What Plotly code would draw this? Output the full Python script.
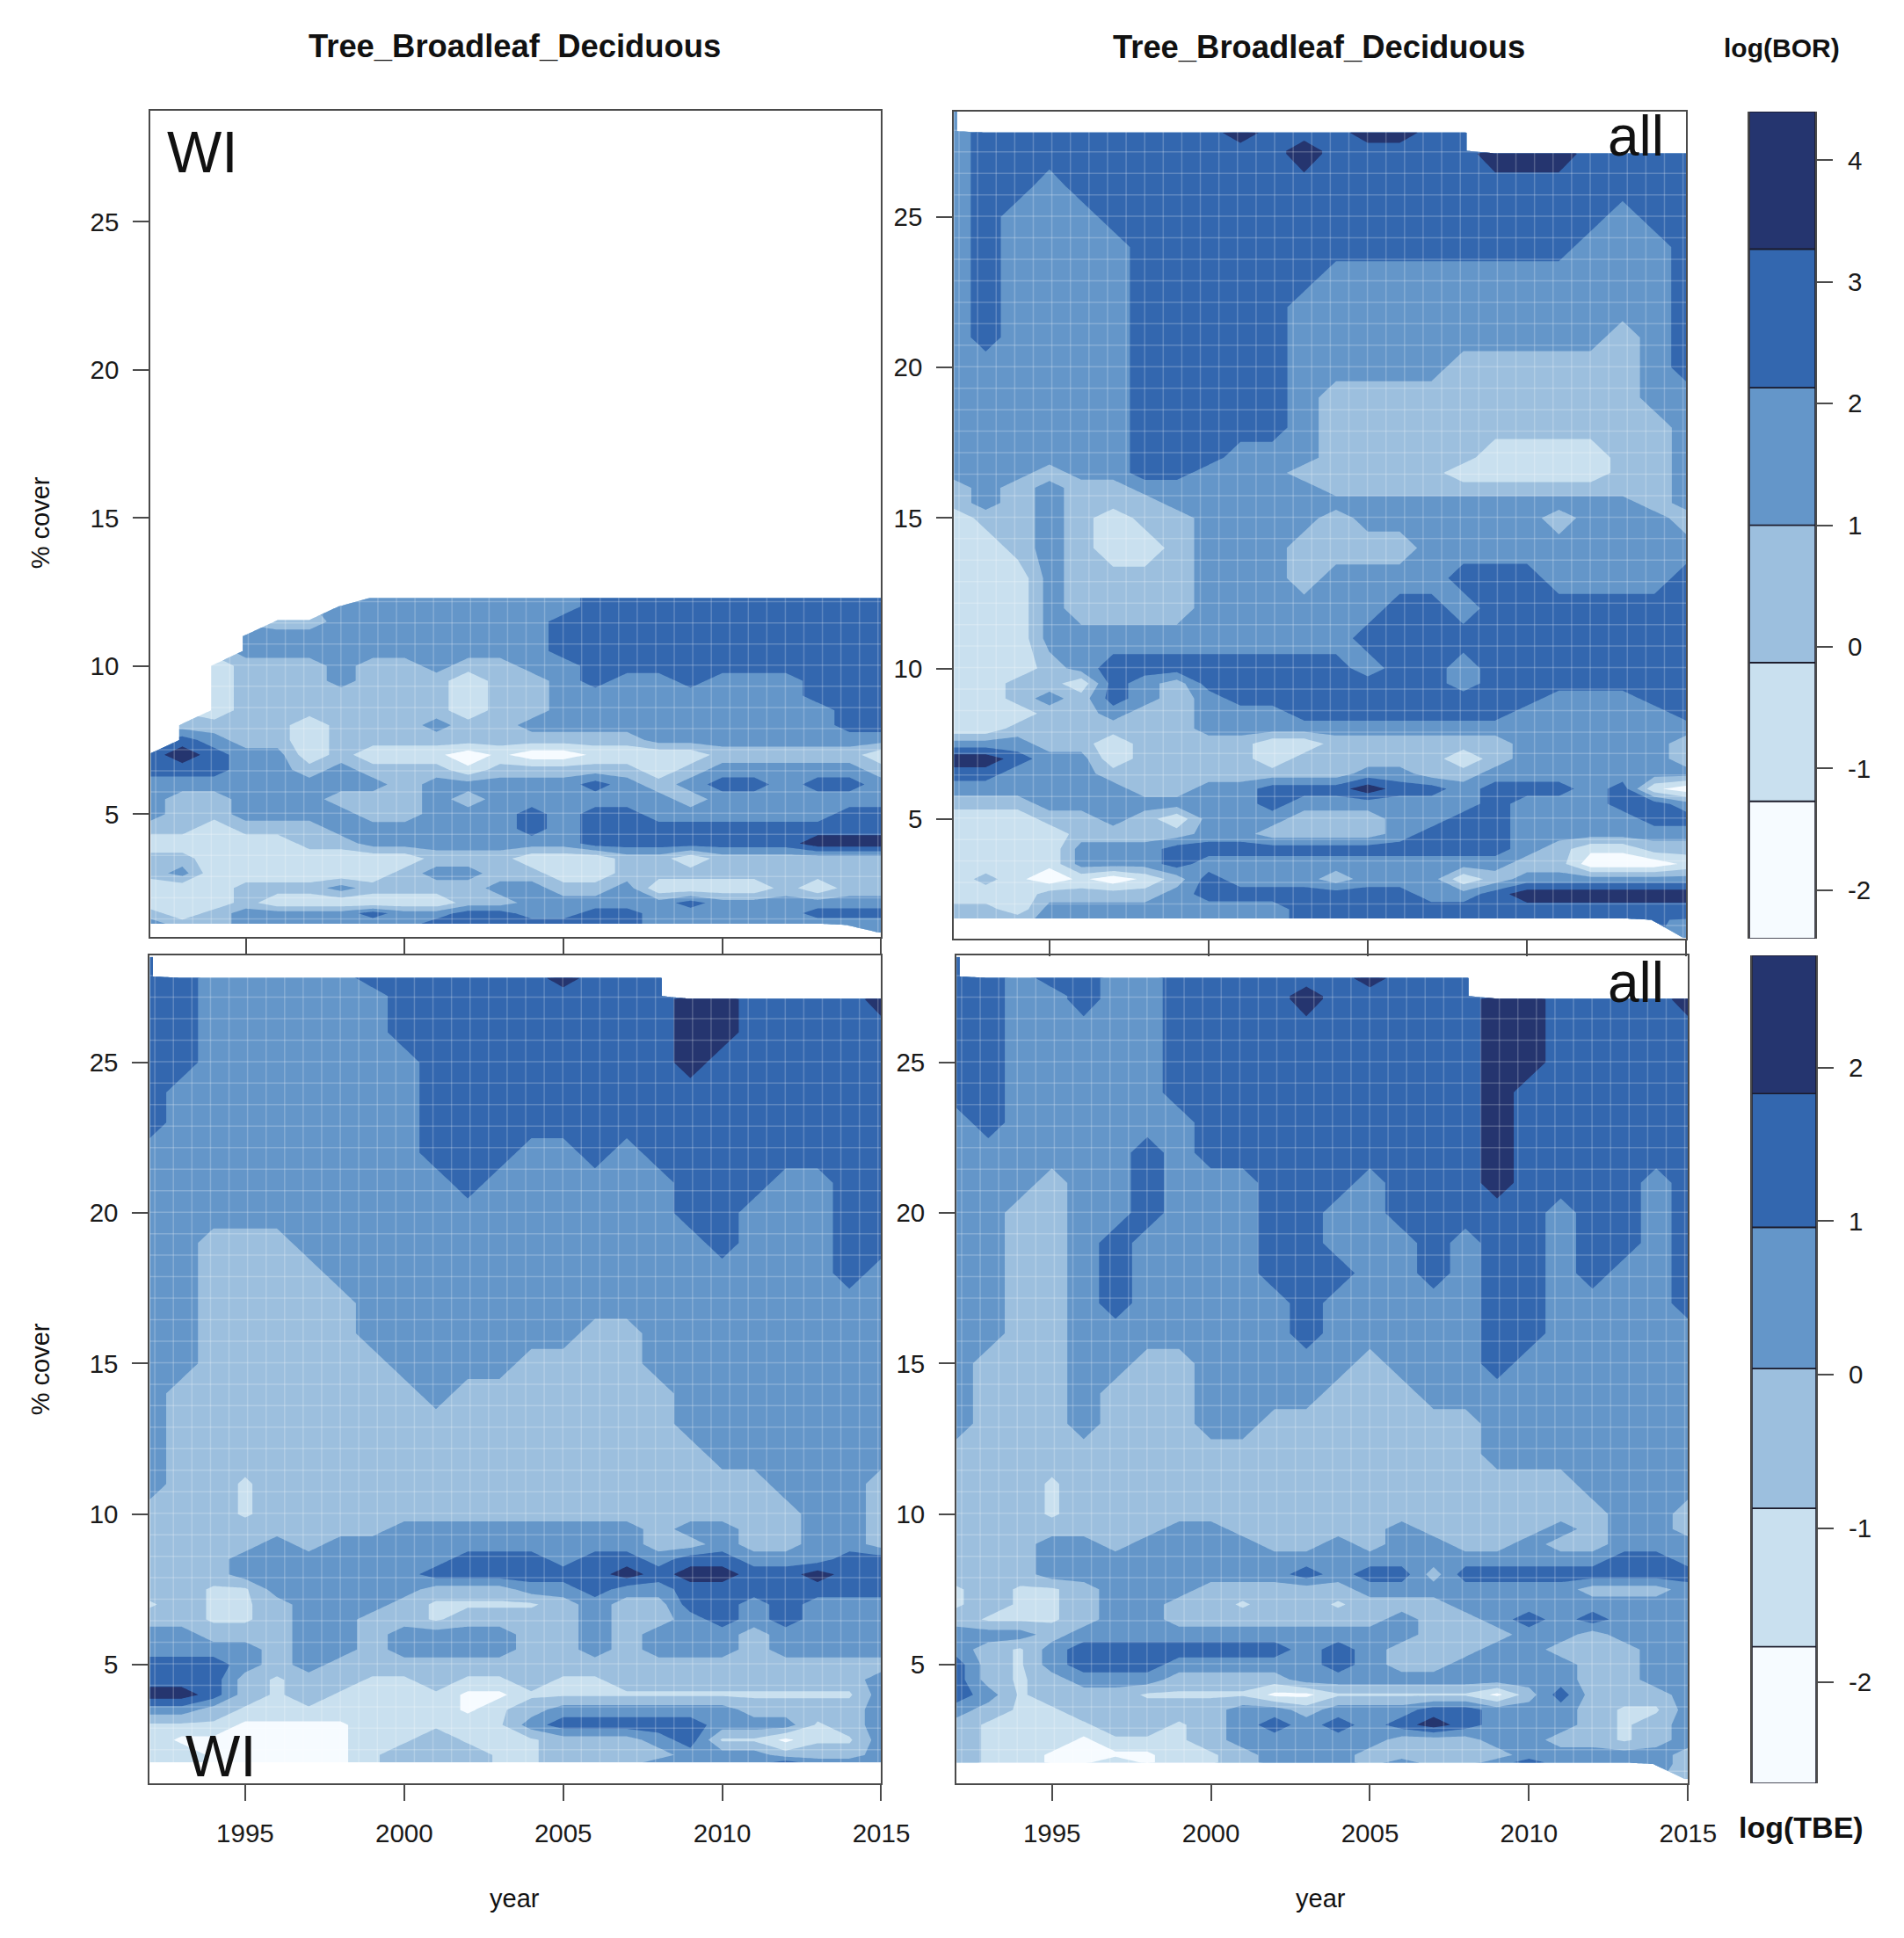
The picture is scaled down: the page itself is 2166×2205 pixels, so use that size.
import numpy as np
import plotly.graph_objects as go

W, H = 2166, 2205
N = None

years = list(range(1992, 2016))

bor_levels = [-2.4, -1.27, -0.13, 1.0, 2.13, 3.27, 4.4]
tbe_levels = [-2.66, -1.77, -0.87, 0.04, 0.96, 1.83, 2.73]
bor_ticks = [-2, -1, 0, 1, 2, 3, 4]
bor_tick_labels = ["-2", "-1", "0", "1", "2", "3", "4"]
tbe_ticks = [-2, -1, 0, 1, 2]
tbe_tick_labels = ["-2", "-1", "0", "1", "2"]
band_colors = ["#F6FBFF", "#C9E0EF", "#9CBFDE", "#6496C9", "#3367AF", "#25356F"]

# top left, log(BOR), WI
wi_bor_y = [1.0, 1.25, 1.3, 1.65, 2, 2.5, 3, 3.5, 4, 4.5, 5, 5.5, 6, 6.5, 7, 7.5, 8, 8.5, 9, 9.5, 10, 10.5, 11, 11.5, 12, 12.3]
wi_bor_z = [
    [N,N,N,N,N,N,N,N,N,N,N,N,N,N,N,N,N,N,N,N,N,N,N,1.5],
    [N,N,N,N,N,N,N,N,N,N,N,N,N,N,N,N,N,N,N,N,N,N,1.5,1.5],
    [1.5,.4,.4,1.5,1.5,1.5,1.5,1.5,1.5,2.7,2.7,2.7,2.7,2.7,2.7,2.7,1.5,1.5,1.5,1.5,1.5,1.5,1.5,1.5],
    [.4,-1,.4,1.5,1.5,1.5,1.5,2.7,1.5,1.5,2.7,2.7,1.5,1.5,2.7,2.7,1.5,1.5,1.5,1.5,1.5,2.7,2.7,2.7],
    [-1,-1,-1,.4,-1,-1,-1,-1,-1,-1,.4,.4,1.5,1.5,1.5,1.5,1.5,2.7,1.5,1.5,1.5,1.5,1.5,1.5],
    [-1,-1,-1,.4,.4,.4,1.5,.4,.4,.4,.4,1.5,1.5,.4,.4,1.5,-1,-1,-1,-1,.4,-1,.4,.4],
    [.4,1.5,-1,-1,-1,-1,-1,-1,.4,1.5,1.5,.4,.4,-1,-1,.4,.4,.4,.4,.4,.4,.4,.4,.4],
    [.4,.4,-1,-1,-1,-1,-1,-1,-1,.4,.4,.4,-1,-1,-1,.4,.4,-1,.4,.4,.4,.4,.4,.4],
    [-1,-1,-1,-1,-1,.4,.4,1.5,1.5,1.5,1.5,1.5,1.5,1.5,2.7,2.7,2.7,2.7,2.7,2.7,2.7,4,4,4],
    [.4,.4,-1,.4,.4,.4,1.5,1.5,1.5,1.5,1.5,1.5,2.7,1.5,2.7,2.7,2.7,2.7,2.7,2.7,2.7,2.7,2.7,2.7],
    [1.5,.4,.4,1.5,1.5,1.5,1.5,.4,.4,1.5,1.5,1.5,2.7,1.5,2.7,2.7,1.5,1.5,1.5,1.5,1.5,1.5,2.7,2.7],
    [1.5,.4,.4,1.5,1.5,1.5,.4,.4,.4,1.5,.4,1.5,1.5,1.5,1.5,1.5,1.5,.4,1.5,1.5,1.5,1.5,1.5,1.5],
    [1.5,1.5,1.5,1.5,1.5,1.5,1.5,1.5,.4,1.5,1.5,1.5,1.5,1.5,2.7,1.5,.4,1.5,2.7,2.7,1.5,2.7,2.7,1.5],
    [2.7,2.7,2.7,1.5,1.5,.4,1.5,.4,.4,.4,-1,.4,.4,.4,.4,.4,-1,.4,1.5,1.5,1.5,1.5,1.5,.4],
    [2.7,4,2.7,1.5,1.5,-1,.4,-1,-1,-1,-2,-1,-2,-2,-1,-1,-1,-1,.4,.4,.4,.4,.4,-1],
    [N,2.7,1.5,.4,.4,-1,.4,.4,.4,.4,.4,.4,.4,.4,.4,.4,1.5,1.5,1.5,1.5,1.5,1.5,1.5,1.5],
    [N,.4,.4,.4,.4,-1,.4,.4,.4,1.5,.4,.4,1.5,1.5,1.5,1.5,1.5,1.5,1.5,1.5,1.5,1.5,2.7,2.7],
    [N,N,-1,.4,.4,.4,.4,.4,.4,.4,-1,.4,.4,1.5,1.5,1.5,1.5,1.5,1.5,1.5,1.5,1.5,2.7,2.7],
    [N,N,-1,.4,.4,.4,.4,.4,.4,.4,-1,.4,.4,1.5,1.5,1.5,1.5,1.5,1.5,1.5,1.5,2.7,2.7,2.7],
    [N,N,-1,.4,.4,.4,1.5,.4,.4,.4,-1,.4,.4,1.5,2.7,1.5,1.5,2.7,1.5,1.5,1.5,2.7,2.7,2.7],
    [N,N,-1,.4,.4,.4,1.5,.4,.4,1.5,.4,.4,1.5,1.5,2.7,2.7,2.7,2.7,2.7,2.7,2.7,2.7,2.7,2.7],
    [N,N,N,1.5,1.5,1.5,1.5,1.5,1.5,1.5,1.5,1.5,1.5,2.7,2.7,2.7,2.7,2.7,2.7,2.7,2.7,2.7,2.7,2.7],
    [N,N,N,1.5,1.5,1.5,1.5,1.5,1.5,1.5,1.5,1.5,1.5,2.7,2.7,2.7,2.7,2.7,2.7,2.7,2.7,2.7,2.7,2.7],
    [N,N,N,N,.4,.4,1.5,1.5,1.5,1.5,1.5,1.5,1.5,2.7,2.7,2.7,2.7,2.7,2.7,2.7,2.7,2.7,2.7,2.7],
    [N,N,N,N,N,N,1.5,1.5,1.5,1.5,1.5,1.5,1.5,1.5,2.7,2.7,2.7,2.7,2.7,2.7,2.7,2.7,2.7,2.7],
    [N,N,N,N,N,N,N,1.5,1.5,1.5,1.5,1.5,1.5,1.5,2.7,2.7,2.7,2.7,2.7,2.7,2.7,2.7,2.7,2.7],
]

# top right, log(BOR), all
all_bor_y = [1.05, 1.65, 1.7, 2, 2.5, 3, 3.5, 4, 4.5, 5, 5.5, 6, 6.5, 7, 7.5, 8, 8.5, 9, 9.5, 10, 11, 12, 13, 14, 15, 15.5, 16, 16.5, 17, 18, 19, 20, 21, 22, 23, 24, 25, 26, 27.1, 27.2, 27.8, 27.85, 28.5]
all_bor_z = [
    [N,N,N,N,N,N,N,N,N,N,N,N,N,N,N,N,N,N,N,N,N,N,N,1.5],
    [N,N,N,N,N,N,N,N,N,N,N,N,N,N,N,N,N,N,N,N,N,N,2.7,1.5],
    [.4,.4,.4,1.5,1.5,1.5,1.5,1.5,1.5,1.5,1.5,2.7,2.7,2.7,2.7,2.7,2.7,2.7,2.7,2.7,2.7,2.7,2.7,2.7],
    [.4,.4,-1,1.5,1.5,1.5,1.5,1.5,1.5,1.5,1.5,2.7,2.7,2.7,2.7,2.7,2.7,2.7,2.7,2.7,2.7,2.7,2.7,2.7],
    [-1,-1,-1,.4,.4,.4,.4,1.5,2.7,2.7,2.7,2.7,2.7,2.7,2.7,1.5,1.5,2.7,4,4,4,4,4,4],
    [-1,.4,-1,-2,-1,-2,-1,.4,2.7,1.5,1.5,1.5,.4,1.5,1.5,1.5,-1,.4,1.5,1.5,1.5,1.5,1.5,1.5],
    [-1,-1,-1,-1,1.5,1.5,1.5,2.7,1.5,1.5,1.5,1.5,1.5,1.5,1.5,1.5,1.5,1.5,.4,.4,-2,-2,-2,-1],
    [-1,-1,-1,-1,1.5,1.5,1.5,2.7,2.7,2.7,2.7,2.7,2.7,2.7,2.7,2.7,2.7,2.7,1.5,.4,-1,-1,.4,.4],
    [-1,-1,-1,-1,.4,.4,.4,.4,1.5,1.5,.4,.4,.4,.4,1.5,2.7,2.7,2.7,1.5,1.5,1.5,1.5,1.5,1.5],
    [-1,-1,-1,.4,.4,1.5,.4,-1,1.5,1.5,1.5,.4,.4,.4,1.5,1.5,2.7,2.7,1.5,1.5,1.5,1.5,2.7,2.7],
    [.4,.4,.4,1.5,1.5,1.5,1.5,1.5,1.5,1.5,2.7,1.5,1.5,1.5,1.5,1.5,1.5,2.7,1.5,1.5,1.5,2.7,2.7,1.5],
    [1.5,1.5,1.5,1.5,1.5,1.5,.4,.4,1.5,1.5,2.7,2.7,2.7,4,2.7,2.7,1.5,2.7,2.7,2.7,1.5,2.7,-1,-2],
    [2.7,2.7,1.5,1.5,1.5,.4,.4,.4,.4,.4,.4,.4,.4,1.5,1.5,.4,.4,1.5,1.5,1.5,1.5,1.5,1.5,1.5],
    [4,4,2.7,1.5,1.5,-1,.4,.4,.4,.4,-1,.4,.4,.4,.4,.4,-1,.4,1.5,1.5,1.5,1.5,1.5,.4],
    [1.5,1.5,1.5,.4,.4,-1,.4,.4,.4,.4,-1,-1,.4,.4,.4,.4,.4,.4,1.5,1.5,1.5,1.5,1.5,.4],
    [-1,-1,.4,.4,.4,.4,.4,.4,1.5,1.5,1.5,1.5,1.5,1.5,1.5,1.5,1.5,1.5,1.5,1.5,1.5,1.5,1.5,1.5],
    [-1,-1,-1,.4,.4,1.5,.4,.4,1.5,1.5,1.5,2.7,2.7,2.7,2.7,2.7,2.7,2.7,1.5,1.5,1.5,1.5,1.5,2.7],
    [-1,-1,.4,1.5,.4,2.7,1.5,.4,1.5,2.7,2.7,2.7,2.7,2.7,2.7,2.7,2.7,2.7,2.7,1.5,1.5,1.5,2.7,2.7],
    [-1,-1,.4,.4,-1,2.7,1.5,.4,2.7,2.7,2.7,2.7,2.7,2.7,2.7,2.7,1.5,2.7,2.7,2.7,2.7,2.7,2.7,2.7],
    [-1,-1,-1,.4,1.5,2.7,2.7,2.7,2.7,2.7,2.7,2.7,2.7,1.5,2.7,2.7,1.5,2.7,2.7,2.7,2.7,2.7,2.7,2.7],
    [-1,-1,-1,1.5,1.5,1.5,1.5,1.5,1.5,1.5,1.5,1.5,1.5,2.7,2.7,2.7,2.7,2.7,2.7,2.7,2.7,2.7,2.7,2.7],
    [-1,-1,-1,1.5,.4,.4,.4,.4,1.5,1.5,1.5,1.5,1.5,1.5,2.7,2.7,1.5,2.7,2.7,2.7,2.7,2.7,2.7,2.7],
    [-1,-1,-1,1.5,.4,.4,.4,.4,1.5,1.5,1.5,.4,1.5,1.5,1.5,1.5,2.7,2.7,2.7,1.5,1.5,1.5,1.5,2.7],
    [-1,-1,.4,1.5,.4,-1,-1,.4,1.5,1.5,1.5,.4,.4,.4,.4,1.5,1.5,1.5,1.5,1.5,1.5,1.5,1.5,1.5],
    [-1,.4,.4,1.5,.4,-1,.4,.4,1.5,1.5,1.5,1.5,.4,1.5,1.5,1.5,1.5,1.5,1.5,.4,1.5,1.5,1.5,.4],
    [.4,1.5,.4,1.5,.4,.4,.4,1.5,1.5,1.5,1.5,1.5,1.5,1.5,1.5,1.5,1.5,1.5,1.5,1.5,1.5,1.5,.4,1.5],
    [.4,1.5,.4,1.5,.4,.4,1.5,1.5,1.5,1.5,1.5,1.5,.4,.4,.4,.4,.4,.4,.4,.4,.4,.4,.4,1.5],
    [1.5,1.5,1.5,.4,1.5,1.5,2.7,2.7,1.5,1.5,1.5,.4,.4,.4,.4,.4,-1,-1,-1,-1,-1,.4,.4,1.5],
    [1.5,1.5,1.5,1.5,1.5,1.5,2.7,2.7,2.7,1.5,1.5,1.5,.4,.4,.4,.4,.4,-1,-1,-1,-1,.4,.4,1.5],
    [1.5,1.5,1.5,1.5,1.5,1.5,2.7,2.7,2.7,2.7,2.7,1.5,.4,.4,.4,.4,.4,.4,.4,.4,.4,.4,.4,1.5],
    [1.5,1.5,1.5,1.5,1.5,1.5,2.7,2.7,2.7,2.7,2.7,1.5,.4,.4,.4,.4,.4,.4,.4,.4,.4,.4,1.5,1.5],
    [1.5,1.5,1.5,1.5,1.5,1.5,2.7,2.7,2.7,2.7,2.7,1.5,1.5,1.5,1.5,1.5,.4,.4,.4,.4,.4,.4,1.5,2.7],
    [1.5,2.7,1.5,1.5,1.5,1.5,2.7,2.7,2.7,2.7,2.7,1.5,1.5,1.5,1.5,1.5,1.5,1.5,1.5,1.5,1.5,.4,1.5,2.7],
    [1.5,2.7,1.5,1.5,1.5,1.5,2.7,2.7,2.7,2.7,2.7,1.5,1.5,1.5,1.5,1.5,1.5,1.5,1.5,1.5,1.5,1.5,1.5,2.7],
    [1.5,2.7,1.5,1.5,1.5,1.5,2.7,2.7,2.7,2.7,2.7,2.7,1.5,1.5,1.5,1.5,1.5,1.5,1.5,1.5,1.5,1.5,1.5,2.7],
    [1.5,2.7,1.5,1.5,1.5,1.5,2.7,2.7,2.7,2.7,2.7,2.7,2.7,2.7,2.7,2.7,2.7,2.7,2.7,2.7,1.5,1.5,1.5,2.7],
    [1.5,2.7,1.5,1.5,1.5,2.7,2.7,2.7,2.7,2.7,2.7,2.7,2.7,2.7,2.7,2.7,2.7,2.7,2.7,2.7,2.7,1.5,2.7,2.7],
    [1.5,2.7,2.7,1.5,2.7,2.7,2.7,2.7,2.7,2.7,2.7,2.7,2.7,2.7,2.7,2.7,2.7,2.7,2.7,2.7,2.7,2.7,2.7,2.7],
    [1.5,2.7,2.7,2.7,2.7,2.7,2.7,2.7,2.7,2.7,2.7,4,2.7,2.7,2.7,2.7,2.7,4,4,4,2.7,2.7,2.7,2.7],
    [1.5,2.7,2.7,2.7,2.7,2.7,2.7,2.7,2.7,2.7,2.7,4,2.7,2.7,2.7,2.7,2.7,N,N,N,N,N,N,N],
    [1.5,2.7,2.7,2.7,2.7,2.7,2.7,2.7,2.7,4,2.7,2.7,2.7,4,4,2.7,2.7,N,N,N,N,N,N,N],
    [1.5,N,N,N,N,N,N,N,N,N,N,N,N,N,N,N,N,N,N,N,N,N,N,N],
    [1.5,N,N,N,N,N,N,N,N,N,N,N,N,N,N,N,N,N,N,N,N,N,N,N],
]

# bottom left, log(TBE), WI
wi_tbe_y = [1.75, 2, 2.5, 3, 3.5, 4, 4.5, 5, 5.5, 6, 6.5, 7, 7.5, 8, 8.5, 9, 9.5, 10, 11, 12, 13, 14, 15, 16, 17, 18, 19, 20, 21, 22, 23, 24, 25, 26, 27.1, 27.2, 27.8, 27.85, 28.5]
wi_tbe_z = [
    [-1,-1,-2,-2,-2,-2,-2,-1,-.4,-.4,-.4,-1,-1,-.4,-.4,-.4,.5,.5,.5,.5,1.4,.5,.5,.5],
    [-1,-1,-2,-2,-2,-2,-2,-1,-.4,-.4,-.4,-1,-1,-.4,-.4,-.4,-.4,.5,.5,.5,-.4,-.4,-.4,.5],
    [-1,-2,-2,-2,-2,-2,-2,-1,-1,-.4,-1,-1,-1,-.4,-.4,-.4,.5,1.4,-1,-1,-2,-1,-1,.5],
    [-1,-1,-1,-2,-2,-2,-2,-1,-1,-1,-1,-1,.5,1.4,1.4,1.4,1.4,1.4,.5,.5,.5,-1,-.4,.5],
    [.5,.5,-.4,-1,-1,-1,-1,-1,-1,-1,-2,-1,-.4,.5,.5,.5,.5,.5,.5,-.4,-.4,-.4,-.4,.5],
    [2.3,2.3,1.4,-.4,-1,-.4,-1,-1,-1,-1,-2,-2,-1,-1,-1,-1,-1,-1,-1,-1,-1,-1,-1,.5],
    [1.4,1.4,1.4,-.4,-1,-.4,-.4,-1,-1,-.4,-1,-1,-.4,-1,-1,-.4,-.4,-.4,-.4,-.4,-.4,-.4,-.4,.5],
    [1.4,1.4,1.4,.5,-.4,.5,-.4,-.4,-.4,-.4,-.4,-.4,-.4,-.4,-.4,-.4,-.4,-.4,-.4,-.4,-.4,-.4,-.4,-.4],
    [.5,.5,.5,.5,-.4,.5,.5,-.4,.5,.5,.5,.5,-.4,-.4,.5,-.4,.5,.5,.5,-.4,.5,.5,.5,.5],
    [.5,.5,-.4,-.4,-.4,.5,.5,-.4,.5,.5,.5,.5,-.4,-.4,.5,-.4,.5,.5,.5,-.4,.5,.5,.5,.5],
    [-.4,-.4,-1,-1,-.4,.5,.5,-.4,-.4,-1,-.4,-.4,-.4,-.4,.5,-.4,-.4,.5,1.4,.5,1.4,.5,.5,.5],
    [-1,-.4,-1,-1,-.4,.5,.5,.5,-.4,-1,-1,-1,-1,-.4,.5,-.4,-.4,1.4,1.4,.5,1.4,.5,.5,.5],
    [-.4,-.4,-1,-1,.5,.5,.5,.5,.5,-.4,-.4,-.4,.5,.5,1.4,.5,.5,1.4,1.4,1.4,1.4,1.4,1.4,1.4],
    [-.4,-.4,-.4,.5,.5,.5,.5,.5,.5,1.4,1.4,1.4,1.4,1.4,1.4,2.3,1.4,2.3,2.3,1.4,1.4,2.3,1.4,1.4],
    [-.4,-.4,-.4,.5,.5,.5,.5,.5,.5,.5,1.4,1.4,1.4,.5,1.4,1.4,.5,1.4,1.4,.5,.5,.5,1.4,1.4],
    [-.4,-.4,-.4,-.4,.5,-.4,.5,.5,.5,.5,.5,.5,.5,.5,.5,.5,-.4,-.4,.5,-.4,-.4,.5,.5,-.4],
    [-.4,-.4,-.4,-.4,-.4,-.4,-.4,-.4,.5,.5,.5,.5,.5,.5,.5,.5,-.4,.5,.5,-.4,-.4,.5,.5,-.4],
    [-.4,-.4,-.4,-1,-.4,-.4,-.4,-.4,-.4,-.4,-.4,-.4,-.4,-.4,-.4,-.4,-.4,-.4,-.4,-.4,-.4,.5,.5,-.4],
    [.5,-.4,-.4,-1,-.4,-.4,-.4,-.4,-.4,-.4,-.4,-.4,-.4,-.4,-.4,-.4,-.4,-.4,-.4,-.4,.5,.5,.5,-.4],
    [.5,-.4,-.4,-.4,-.4,-.4,-.4,-.4,-.4,-.4,-.4,-.4,-.4,-.4,-.4,-.4,-.4,-.4,.5,.5,.5,.5,.5,.5],
    [.5,-.4,-.4,-.4,-.4,-.4,-.4,-.4,-.4,-.4,-.4,-.4,-.4,-.4,-.4,-.4,-.4,.5,.5,.5,.5,.5,.5,.5],
    [.5,-.4,-.4,-.4,-.4,-.4,-.4,-.4,-.4,.5,-.4,-.4,-.4,-.4,-.4,-.4,-.4,.5,.5,.5,.5,.5,.5,.5],
    [.5,.5,-.4,-.4,-.4,-.4,-.4,-.4,.5,.5,.5,.5,-.4,-.4,-.4,-.4,.5,.5,.5,.5,.5,.5,.5,.5],
    [.5,.5,-.4,-.4,-.4,-.4,-.4,.5,.5,.5,.5,.5,.5,.5,-.4,-.4,.5,.5,.5,.5,.5,.5,.5,.5],
    [.5,.5,-.4,-.4,-.4,-.4,-.4,.5,.5,.5,.5,.5,.5,.5,.5,.5,.5,.5,.5,.5,.5,.5,.5,.5],
    [.5,.5,-.4,-.4,-.4,-.4,.5,.5,.5,.5,.5,.5,.5,.5,.5,.5,.5,.5,.5,.5,.5,.5,1.4,.5],
    [.5,.5,-.4,-.4,-.4,.5,.5,.5,.5,.5,.5,.5,.5,.5,.5,.5,.5,.5,1.4,.5,.5,.5,1.4,1.4],
    [.5,.5,.5,.5,.5,.5,.5,.5,.5,.5,.5,.5,.5,.5,.5,.5,.5,1.4,1.4,.5,.5,.5,1.4,1.4],
    [.5,.5,.5,.5,.5,.5,.5,.5,.5,.5,1.4,.5,.5,.5,.5,.5,.5,1.4,1.4,1.4,.5,.5,1.4,1.4],
    [.5,.5,.5,.5,.5,.5,.5,.5,.5,1.4,1.4,1.4,.5,.5,1.4,.5,1.4,1.4,1.4,1.4,1.4,1.4,1.4,1.4],
    [1.4,.5,.5,.5,.5,.5,.5,.5,.5,1.4,1.4,1.4,1.4,1.4,1.4,1.4,1.4,1.4,1.4,1.4,1.4,1.4,1.4,1.4],
    [1.4,.5,.5,.5,.5,.5,.5,.5,.5,1.4,1.4,1.4,1.4,1.4,1.4,1.4,1.4,1.4,1.4,1.4,1.4,1.4,1.4,1.4],
    [1.4,1.4,.5,.5,.5,.5,.5,.5,.5,1.4,1.4,1.4,1.4,1.4,1.4,1.4,1.4,2.3,1.4,1.4,1.4,1.4,1.4,1.4],
    [1.4,1.4,.5,.5,.5,.5,.5,.5,1.4,1.4,1.4,1.4,1.4,1.4,1.4,1.4,1.4,2.3,2.3,1.4,1.4,1.4,1.4,1.4],
    [1.4,1.4,.5,.5,.5,.5,.5,.5,1.4,1.4,1.4,1.4,1.4,1.4,1.4,1.4,1.4,2.3,2.3,1.4,1.4,1.4,1.4,2.3],
    [1.4,1.4,.5,.5,.5,.5,.5,.5,1.4,1.4,1.4,1.4,1.4,1.4,1.4,1.4,1.4,N,N,N,N,N,N,N],
    [1.4,1.4,.5,.5,.5,.5,.5,1.4,1.4,1.4,1.4,1.4,1.4,2.3,1.4,1.4,1.4,N,N,N,N,N,N,N],
    [1.4,N,N,N,N,N,N,N,N,N,N,N,N,N,N,N,N,N,N,N,N,N,N,N],
    [1.4,N,N,N,N,N,N,N,N,N,N,N,N,N,N,N,N,N,N,N,N,N,N,N],
]

# bottom right, log(TBE), all
all_tbe_y = [1.2, 1.7, 1.75, 2, 2.5, 3, 3.5, 4, 4.5, 5, 5.5, 6, 6.5, 7, 7.5, 8, 8.5, 9, 9.5, 10, 11, 12, 13, 14, 15, 16, 17, 18, 19, 20, 21, 22, 23, 24, 25, 26, 27.1, 27.2, 27.8, 27.85, 28.5]
all_tbe_z = [
    [N,N,N,N,N,N,N,N,N,N,N,N,N,N,N,N,N,N,N,N,N,N,N,-.4],
    [N,N,N,N,N,N,N,N,N,N,N,N,N,N,N,N,N,N,N,N,N,N,.5,-.4],
    [-.4,-1,-1,-2,-2,-1,-2,-1,-1,-.4,.5,.5,.5,-.4,.5,-.4,-.4,.5,1.4,.5,.5,.5,.5,-.4],
    [-.4,-1,-1,-2,-2,-2,-2,-1,-1,-.4,.5,.5,.5,-.4,-.4,-.4,-.4,-.4,.5,.5,.5,.5,.5,-.4],
    [-.4,-1,-1,-1,-2,-1,-1,-1,-.4,.5,.5,.5,.5,.5,-.4,-.4,-.4,.5,.5,-.4,-.4,-1,-.4,.5],
    [-.4,-1,-1,-1,-1,-.4,-.4,-1,-.4,.5,1.4,.5,1.4,.5,1.4,2.3,1.4,.5,.5,.5,-.4,-1,-.4,.5],
    [.5,-.4,-1,-1,-.4,-.4,-.4,-.4,-.4,.5,.5,-.4,.5,.5,.5,1.4,1.4,.5,.5,.5,-.4,-1,-1,.5],
    [1.4,.5,-1,-.4,-.4,-.4,-1,-1,-1,-1,-2,-2,-1,-1,-1,-1,-1,-2,-.4,1.4,-.4,-.4,-.4,.5],
    [1.4,-.4,-1,-.4,.5,.5,.5,-.4,-.4,-.4,-.4,.5,.5,.5,.5,.5,.5,.5,.5,.5,-.4,-.4,.5,.5],
    [1.4,-.4,-1,.5,1.4,1.4,1.4,.5,.5,.5,.5,.5,1.4,.5,-.4,-.4,.5,.5,.5,.5,-.4,-.4,.5,.5],
    [.5,-.4,-1,.5,1.4,1.4,1.4,1.4,1.4,1.4,1.4,.5,1.4,.5,-.4,-.4,-.4,.5,.5,-.4,-.4,-.4,.5,.5],
    [.5,.5,.5,-.4,.5,.5,.5,.5,.5,.5,.5,.5,.5,.5,.5,-.4,-.4,-.4,.5,.5,-.4,.5,.5,.5],
    [-.4,-1,-1,-1,-.4,.5,.5,-.4,-.4,-.4,-.4,-.4,-.4,-.4,.5,-.4,-.4,.5,1.4,.5,1.4,.5,.5,.5],
    [-1,-.4,-1,-1,-.4,.5,.5,-.4,-.4,-1,-.4,-.4,-1,-.4,-.4,-.4,.5,.5,.5,.5,.5,.5,.5,.5],
    [-1,-.4,-1,-1,-.4,.5,.5,.5,-.4,-.4,-.4,-.4,-.4,.5,.5,.5,.5,.5,.5,.5,-.4,-.4,-.4,.5],
    [-.4,-.4,-.4,.5,.5,.5,.5,.5,.5,.5,.5,1.4,.5,1.4,1.4,-.4,1.4,1.4,1.4,1.4,1.4,1.4,1.4,1.4],
    [-.4,-.4,-.4,.5,.5,.5,.5,.5,.5,.5,.5,.5,.5,.5,.5,.5,.5,.5,.5,.5,.5,1.4,1.4,.5],
    [-.4,-.4,-.4,.5,.5,-.4,.5,.5,.5,.5,-.4,-.4,.5,-.4,.5,.5,-.4,-.4,.5,-.4,-.4,.5,.5,.5],
    [-.4,-.4,-.4,-.4,-.4,-.4,-.4,.5,.5,-.4,-.4,-.4,-.4,-.4,.5,-.4,-.4,-.4,-.4,.5,-.4,.5,.5,-.4],
    [-.4,-.4,-.4,-1,-.4,-.4,-.4,-.4,-.4,-.4,-.4,-.4,-.4,-.4,-.4,-.4,-.4,-.4,-.4,-.4,-.4,.5,.5,-.4],
    [-.4,-.4,-.4,-1,-.4,-.4,-.4,-.4,-.4,-.4,-.4,-.4,-.4,-.4,-.4,-.4,-.4,-.4,-.4,-.4,.5,.5,.5,.5],
    [-.4,-.4,-.4,-.4,-.4,-.4,-.4,-.4,-.4,-.4,-.4,-.4,-.4,-.4,-.4,-.4,-.4,.5,.5,.5,.5,.5,.5,.5],
    [.5,-.4,-.4,-.4,.5,-.4,-.4,-.4,.5,.5,-.4,-.4,-.4,-.4,-.4,-.4,-.4,.5,.5,.5,.5,.5,.5,.5],
    [.5,-.4,-.4,-.4,.5,-.4,-.4,-.4,.5,.5,.5,.5,-.4,-.4,-.4,.5,.5,.5,.5,.5,.5,.5,.5,.5],
    [.5,-.4,-.4,-.4,.5,.5,-.4,-.4,.5,.5,.5,.5,.5,-.4,.5,.5,.5,1.4,.5,.5,.5,.5,.5,.5],
    [.5,.5,-.4,-.4,.5,.5,.5,.5,.5,.5,.5,1.4,.5,.5,.5,.5,.5,1.4,1.4,.5,.5,.5,.5,.5],
    [.5,.5,-.4,-.4,.5,1.4,.5,.5,.5,.5,.5,1.4,.5,.5,.5,.5,.5,1.4,1.4,.5,.5,.5,.5,1.4],
    [.5,.5,-.4,-.4,.5,1.4,.5,.5,.5,.5,1.4,1.4,1.4,.5,.5,1.4,.5,1.4,1.4,.5,1.4,.5,.5,1.4],
    [.5,.5,-.4,-.4,.5,1.4,.5,.5,.5,.5,1.4,1.4,.5,.5,.5,1.4,.5,1.4,1.4,.5,1.4,1.4,.5,1.4],
    [.5,.5,-.4,-.4,.5,.5,1.4,.5,.5,.5,1.4,1.4,.5,.5,1.4,1.4,1.4,1.4,1.4,.5,1.4,1.4,.5,1.4],
    [.5,.5,.5,-.4,.5,.5,1.4,.5,.5,.5,1.4,1.4,1.4,.5,1.4,1.4,1.4,2.3,1.4,1.4,1.4,1.4,.5,1.4],
    [.5,.5,.5,.5,.5,.5,1.4,.5,1.4,1.4,1.4,1.4,1.4,1.4,1.4,1.4,1.4,2.3,1.4,1.4,1.4,1.4,1.4,1.4],
    [.5,1.4,.5,.5,.5,.5,.5,.5,1.4,1.4,1.4,1.4,1.4,1.4,1.4,1.4,1.4,2.3,1.4,1.4,1.4,1.4,1.4,1.4],
    [1.4,1.4,.5,.5,.5,.5,.5,1.4,1.4,1.4,1.4,1.4,1.4,1.4,1.4,1.4,1.4,2.3,1.4,1.4,1.4,1.4,1.4,1.4],
    [1.4,1.4,.5,.5,.5,.5,.5,1.4,1.4,1.4,1.4,1.4,1.4,1.4,1.4,1.4,1.4,2.3,2.3,1.4,1.4,1.4,1.4,1.4],
    [1.4,1.4,.5,.5,.5,.5,.5,1.4,1.4,1.4,1.4,1.4,1.4,1.4,1.4,1.4,1.4,2.3,2.3,1.4,1.4,1.4,1.4,1.4],
    [1.4,1.4,.5,.5,1.4,.5,.5,1.4,1.4,1.4,1.4,2.3,1.4,1.4,1.4,1.4,1.4,2.3,2.3,1.4,1.4,1.4,1.4,2.3],
    [1.4,1.4,.5,.5,1.4,.5,.5,1.4,1.4,1.4,1.4,2.3,1.4,1.4,1.4,1.4,1.4,N,N,N,N,N,N,N],
    [1.4,1.4,.5,1.4,1.4,.5,.5,1.4,1.4,1.4,1.4,1.4,1.4,2.3,1.4,1.4,1.4,N,N,N,N,N,N,N],
    [1.4,N,N,N,N,N,N,N,N,N,N,N,N,N,N,N,N,N,N,N,N,N,N,N],
    [1.4,N,N,N,N,N,N,N,N,N,N,N,N,N,N,N,N,N,N,N,N,N,N,N],
]


def fx(px):
    return px / W


def fy(py):
    return 1 - py / H


# y rows, z rows, levels, pixel box (left, right, top, bottom), y range, x labels shown
panels = [
    (wi_bor_y, wi_bor_z, bor_levels, (174, 1018, 126, 1066), (0.85, 28.75), False),
    (all_bor_y, all_bor_z, bor_levels, (1102, 1948, 127, 1068), (1.02, 28.5), False),
    (wi_tbe_y, wi_tbe_z, tbe_levels, (173, 1018, 1087, 2029), (1.06, 28.55), True),
    (all_tbe_y, all_tbe_z, tbe_levels, (1105, 1950, 1087, 2029), (1.06, 28.55), True),
]

tick_font = dict(family="Liberation Sans, Arial, sans-serif", size=29.5, color="#1a1a1a")
frame = "#4a4a4a"

fig = go.Figure()
layout_axes = {}

steps = []
for i, c in enumerate(band_colors):
    steps += [[i / 6, c], [(i + 1) / 6, c]]

# pale lines the image shows over each filled panel
grid_x = np.arange(1992.16, 2015, 0.583)
grid_y = np.arange(1.46, 28.6, 0.714)

for i, (ys, zs, levels, box, yrange, xlabels) in enumerate(panels):
    n = i + 1
    left, right, top, bottom = box
    xname = "x" if n == 1 else f"x{n}"
    yname = "y" if n == 1 else f"y{n}"
    fig.add_trace(go.Contour(
        x=years, y=ys, z=zs, xaxis=xname, yaxis=yname,
        colorscale=steps, zmin=levels[0], zmax=levels[-1], showscale=False,
        contours=dict(start=levels[0], end=levels[-1], size=(levels[-1] - levels[0]) / 6,
                      coloring="fill", showlines=False),
        line=dict(width=0, smoothing=0), connectgaps=False, hoverinfo="skip"))

    gx, gy = [], []
    for v in grid_x:
        gx += [v, v, None]
        gy += [ys[0], ys[-1], None]
    for v in grid_y:
        if ys[0] <= v <= ys[-1]:
            gx += [1992, 2015, None]
            gy += [v, v, None]
    fig.add_trace(go.Scatter(x=gx, y=gy, mode="lines", xaxis=xname, yaxis=yname,
                             line=dict(color="rgba(255,255,255,0.22)", width=1.5),
                             hoverinfo="skip", showlegend=False))

    xkey = "xaxis" if n == 1 else f"xaxis{n}"
    ykey = "yaxis" if n == 1 else f"yaxis{n}"
    layout_axes[xkey] = dict(
        domain=[fx(left), fx(right)], range=[1992, 2015], anchor=yname,
        tickvals=[1995, 2000, 2005, 2010, 2015], showticklabels=xlabels,
        ticks="outside", ticklen=18, tickwidth=1.5, tickcolor=frame,
        showline=True, mirror=True, linecolor=frame, linewidth=2, showgrid=False,
        zeroline=False, tickfont=tick_font, ticklabelstandoff=12)
    layout_axes[ykey] = dict(
        domain=[fy(bottom), fy(top)], range=list(yrange), anchor=xname,
        tickvals=[5, 10, 15, 20, 25], ticks="outside", ticklen=18, tickwidth=1.5, tickcolor=frame,
        showline=True, mirror=True, linecolor=frame, linewidth=2, showgrid=False,
        zeroline=False, tickfont=tick_font, ticklabelstandoff=10)

# colour keys
keys = [
    (bor_levels, bor_ticks, bor_tick_labels, (2021, 2097, 127, 1068), 5),
    (tbe_levels, tbe_ticks, tbe_tick_labels, (2024, 2098, 1087, 2029), 6),
]
for levels, ticks, labels, box, n in keys:
    left, right, top, bottom = box
    fig.add_trace(go.Bar(
        x=["key"] * 6, y=np.diff(levels), base=levels[:-1], width=1,
        marker=dict(color=band_colors, line=dict(color="#1a1a2a", width=1.6)),
        xaxis=f"x{n}", yaxis=f"y{n}", hoverinfo="skip", showlegend=False))
    layout_axes[f"xaxis{n}"] = dict(domain=[fx(left), fx(right)], anchor=f"y{n}", visible=False,
                                    range=[-0.5, 0.5], type="category")
    layout_axes[f"yaxis{n}"] = dict(
        domain=[fy(bottom), fy(top)], range=[levels[0], levels[-1]], anchor=f"x{n}", side="right",
        tickvals=ticks, ticktext=labels, ticks="outside", ticklen=18, tickwidth=1.5, tickcolor=frame,
        showline=True, mirror=True, linecolor=frame, linewidth=2, showgrid=False, zeroline=False,
        tickfont=tick_font, ticklabelstandoff=11)

texts = [
    ("Tree_Broadleaf_Deciduous", 595, 52, 36.4, True, 0),
    ("Tree_Broadleaf_Deciduous", 1524, 54, 36.4, True, 0),
    ("log(BOR)", 2058, 55, 30, True, 0),
    ("log(TBE)", 2081, 2079, 34, True, 0),
    ("% cover", 47, 595, 29, False, -90),
    ("% cover", 47, 1558, 29, False, -90),
    ("year", 595, 2160, 29, False, 0),
    ("year", 1526, 2160, 29, False, 0),
    ("WI", 234, 173, 66, False, 0),
    ("WI", 255, 1998, 66, False, 0),
    ("all", 1890, 155, 64, False, 0),
    ("all", 1890, 1118, 64, False, 0),
]
annotations = []
for text, px, py, size, bold, angle in texts:
    annotations.append(dict(
        text=f"<b>{text}</b>" if bold else text, x=fx(px), y=fy(py), xref="paper", yref="paper",
        xanchor="center", yanchor="middle", showarrow=False, textangle=angle,
        font=dict(family="Liberation Sans, Arial, sans-serif", size=size, color="#111111")))

fig.update_layout(
    width=W, height=H, margin=dict(l=0, r=0, t=0, b=0), autosize=False,
    paper_bgcolor="white", plot_bgcolor="white", showlegend=False, barmode="overlay",
    annotations=annotations, **layout_axes)

fig.write_html("out.html", config={"displayModeBar": False},
               post_script="document.body.style.margin='0';")
